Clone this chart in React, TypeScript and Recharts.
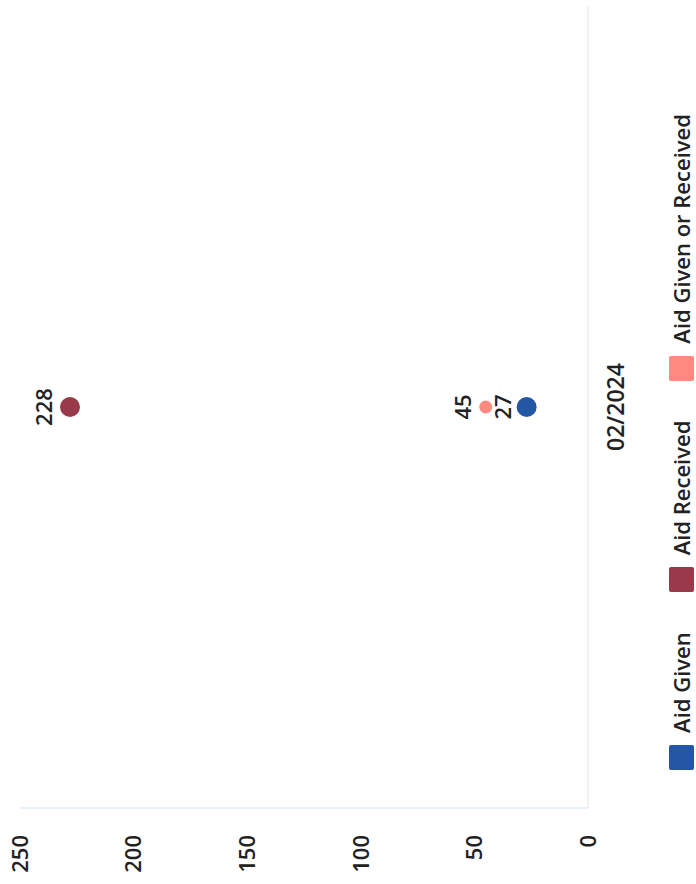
import React from 'react';
import { LineChart, Line, XAxis, YAxis, LabelList } from 'recharts';

const months = ['02/2024'];
const aidGiven = [27];
const aidReceived = [228];
const aidGivenOrReceived = [45];
const valueTicks = [0, 50, 100, 150, 200, 250];

const FONT = "'Open Sans', sans-serif";
const TEXT = '#222222';

const series = [
  { key: 'aidGiven', name: 'Aid Given', color: '#2357a5', r: 10, offset: 16 },
  { key: 'aidReceived', name: 'Aid Received', color: '#993a4a', r: 10, offset: 18 },
  { key: 'aidGivenOrReceived', name: 'Aid Given or Received', color: '#fd8a80', r: 6.5, offset: 15 },
];

const data = months.map((m, i) => ({
  month: m,
  aidGiven: aidGiven[i],
  aidReceived: aidReceived[i],
  aidGivenOrReceived: aidGivenOrReceived[i],
}));

// chart is laid out normally, then turned a quarter turn counter-clockwise
const W = 884;
const H = 696;

function Legend() {
  return (
    <div
      style={{
        position: 'absolute',
        left: 0,
        top: 669,
        width: W,
        display: 'flex',
        justifyContent: 'center',
        alignItems: 'center',
        fontFamily: FONT,
        fontSize: 22,
        fontWeight: 600,
        color: TEXT,
        lineHeight: '25px',
      }}
    >
      {series.map((s, i) => (
        <div key={s.key} style={{ display: 'flex', alignItems: 'center', marginRight: i < series.length - 1 ? 40 : 0 }}>
          <span style={{ width: 25, height: 25, background: s.color, borderRadius: 2, marginRight: 12 }} />
          <span style={{ whiteSpace: 'nowrap' }}>{s.name}</span>
        </div>
      ))}
    </div>
  );
}

export default function App() {
  return (
    <div style={{ position: 'absolute', left: 0, top: 0, width: H, height: W, overflow: 'hidden', background: '#fff' }}>
      <div
        style={{
          position: 'absolute',
          left: 0,
          top: 0,
          width: W,
          height: H,
          transformOrigin: '0 0',
          transform: `translateY(${W}px) rotate(-90deg)`,
        }}
      >
        <LineChart width={W} height={H} data={data} margin={{ top: 20, right: 6, bottom: 68, left: 0 }}>
          <XAxis
            dataKey="month"
            height={40}
            tickLine={false}
            tickMargin={14}
            axisLine={{ stroke: '#e4e4e4' }}
            tick={{ fill: TEXT, fontSize: 23, fontWeight: 600, fontFamily: FONT }}
          />
          <YAxis
            width={76}
            domain={[0, 250]}
            ticks={valueTicks}
            tickLine={false}
            tickMargin={21}
            axisLine={{ stroke: '#d3e4f6' }}
            tick={{ fill: TEXT, fontSize: 22, fontWeight: 600, fontFamily: FONT }}
          />
          {series.map((s) => (
            <Line
              key={s.key}
              dataKey={s.key}
              name={s.name}
              stroke="transparent"
              dot={{ r: s.r, fill: s.color, stroke: 'none' }}
              activeDot={false}
              isAnimationActive={false}
            >
              <LabelList
                dataKey={s.key}
                position="top"
                offset={s.offset}
                style={{ fill: TEXT, fontSize: 22, fontWeight: 600, fontFamily: FONT }}
              />
            </Line>
          ))}
        </LineChart>
        <Legend />
      </div>
    </div>
  );
}
